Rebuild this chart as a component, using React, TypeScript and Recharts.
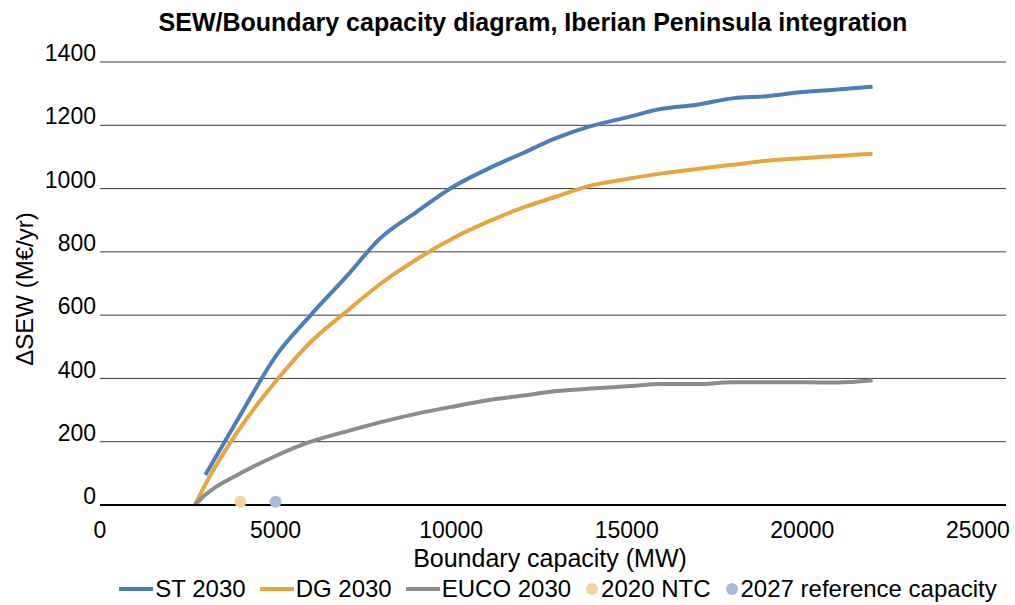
import React from "react";
import { ComposedChart, Line, Scatter, XAxis, YAxis, CartesianGrid, Legend, Label } from "recharts";

const capacityMW = [2700, 3000, 4000, 5000, 6000, 7000, 8000, 9000, 10000, 11000, 12000, 13000, 14000, 15000, 16000, 17000, 18000, 19000, 20000, 21000, 22000];
const st2030 = [null, 95, 285, 470, 600, 720, 845, 925, 1002, 1060, 1110, 1160, 1198, 1225, 1252, 1265, 1285, 1292, 1305, 1313, 1322];
const dg2030 = [0, 65, 245, 390, 515, 610, 700, 775, 840, 893, 938, 975, 1010, 1030, 1048, 1062, 1075, 1088, 1096, 1103, 1110];
const euco2030 = [0, 32, 100, 155, 200, 232, 262, 288, 310, 330, 345, 360, 368, 375, 382, 382, 388, 388, 388, 387, 394];
const ntc2020 = [{ x: 4000, y: 10 }];
const ref2027 = [{ x: 5000, y: 10 }];
const xTicks = [0, 5000, 10000, 15000, 20000, 25000];
const yTicks = [0, 200, 400, 600, 800, 1000, 1200, 1400];

const rows = capacityMW.map((x, i) => ({ x, st: st2030[i], dg: dg2030[i], euco: euco2030[i] }));

const FONT = "'Liberation Sans', Arial, sans-serif";
const BLUE = "#4A7EBB";
const ORANGE = "#E9A43B";
const GRAY = "#8C8C8C";
const LORANGE = "#F5D19E";
const LBLUE = "#A9BADF";

const legendItems = [
  { label: "ST 2030", color: BLUE, kind: "line" },
  { label: "DG 2030", color: ORANGE, kind: "line" },
  { label: "EUCO 2030", color: GRAY, kind: "line" },
  { label: "2020 NTC", color: LORANGE, kind: "dot" },
  { label: "2027 reference capacity", color: LBLUE, kind: "dot" },
];

const LegendContent = () => (
  <div style={{ display: "flex", justifyContent: "center", alignItems: "center", fontFamily: FONT, fontSize: 24, lineHeight: "28px", color: "#000", whiteSpace: "nowrap", paddingTop: 10, paddingLeft: 124 }}>
    {legendItems.map((it) => (
      <div key={it.label} style={{ display: "flex", alignItems: "center", marginRight: 14 }}>
        {it.kind === "line" ? (
          <svg width={34} height={10} style={{ marginRight: 2 }}>
            <line x1={0} y1={5} x2={34} y2={5} stroke={it.color} strokeWidth={4} />
          </svg>
        ) : (
          <svg width={14} height={14} style={{ marginRight: 2 }}>
            <circle cx={7} cy={7} r={6} fill={it.color} />
          </svg>
        )}
        <span>{it.label}</span>
      </div>
    ))}
  </div>
);

const YTick = (props: any) => {
  const { x, y, payload } = props;
  return (
    <text x={x + 4} y={y - 7} textAnchor="end" dominantBaseline="middle" fontFamily={FONT} fontSize={23} fill="#000">
      {payload.value}
    </text>
  );
};

const XTick = (props: any) => {
  const { x, y, payload } = props;
  return (
    <text x={x} y={y + 19} textAnchor="middle" dominantBaseline="middle" fontFamily={FONT} fontSize={23} fill="#000">
      {payload.value}
    </text>
  );
};

const XLabel = () => (
  <text x={550} y={567} textAnchor="middle" fontFamily={FONT} fontSize={25} fill="#000">
    Boundary capacity (MW)
  </text>
);

const YLabel = () => (
  <text x={0} y={0} transform="translate(33,289) rotate(-90)" textAnchor="middle" fontFamily={FONT} fontSize={24} fill="#000">
    ΔSEW (M€/yr)
  </text>
);

export default function App() {
  return (
    <div style={{ position: "absolute", left: 0, top: 0, width: 1015, height: 605, background: "#fff" }}>
      <div style={{ position: "absolute", left: 533 - 400, top: 4, width: 800, textAlign: "center", fontFamily: FONT, fontWeight: "bold", fontSize: 25, lineHeight: "36px" }}>
        SEW/Boundary capacity diagram, Iberian Peninsula integration
      </div>
      <ComposedChart width={1015} height={605} data={rows} margin={{ top: 62, right: 9, bottom: 0, left: 0 }}>
        <CartesianGrid horizontal vertical={false} stroke="#3a3a3a" strokeWidth={1} />
        <XAxis
          type="number"
          dataKey="x"
          domain={[0, 25800]}
          ticks={xTicks}
          allowDataOverflow
          height={60}
          axisLine={{ stroke: "#000", strokeWidth: 2 }}
          tickLine={false}
          tick={<XTick />}
        >
          <Label content={<XLabel />} />
        </XAxis>
        <YAxis
          type="number"
          domain={[0, 1400]}
          ticks={yTicks}
          width={100}
          axisLine={false}
          tickLine={false}
          tick={<YTick />}
        >
          <Label content={<YLabel />} />
        </YAxis>
        <Legend verticalAlign="bottom" height={40} content={<LegendContent />} />
        <Line type="monotone" dataKey="st" name="ST 2030" stroke={BLUE} strokeWidth={4} dot={false} isAnimationActive={false} />
        <Line type="monotone" dataKey="dg" name="DG 2030" stroke={ORANGE} strokeWidth={4} dot={false} isAnimationActive={false} />
        <Line type="monotone" dataKey="euco" name="EUCO 2030" stroke={GRAY} strokeWidth={4} dot={false} isAnimationActive={false} />
        <Scatter data={ntc2020} dataKey="y" name="2020 NTC" fill={LORANGE} shape={(p: any) => <circle cx={p.cx} cy={p.cy} r={6} fill={LORANGE} />} isAnimationActive={false} />
        <Scatter data={ref2027} dataKey="y" name="2027 reference capacity" fill={LBLUE} shape={(p: any) => <circle cx={p.cx} cy={p.cy} r={6} fill={LBLUE} />} isAnimationActive={false} />
      </ComposedChart>
    </div>
  );
}
